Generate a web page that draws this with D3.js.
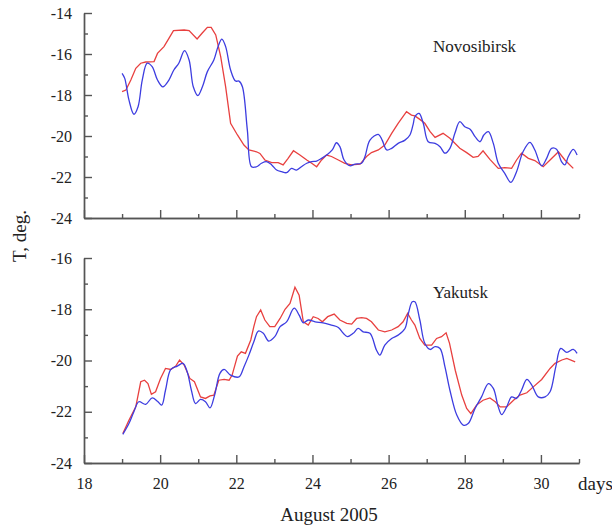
<!DOCTYPE html>
<html>
<head>
<meta charset="utf-8">
<script src="https://cdn.jsdelivr.net/npm/d3@7"></script>
<style>
  body { margin: 0; background: #fff; }
  svg text { font-family: "Liberation Serif", "Times New Roman", serif; fill: #222; }
</style>
</head>
<body>
<div id="chart"></div>
<script>
// tick values
var dayMajor = [18, 20, 22, 24, 26, 28, 30];
var dayMinor = [19, 21, 23, 25, 27, 29, 31];
var topMajor = [-24, -22, -20, -18, -16, -14];
var topMinor = [-23, -21, -19, -17, -15];
var botMajor = [-24, -22, -20, -18, -16];
var botMinor = [-23, -21, -19, -17];

// Novosibirsk [day, T]
var novoRed = [[19.00,-17.84],[19.10,-17.76],[19.23,-17.27],[19.36,-16.70],[19.49,-16.45],[19.62,-16.39],[19.84,-16.37],[19.93,-15.97],[20.10,-15.64],[20.23,-15.24],[20.35,-14.86],[20.63,-14.83],[20.76,-14.86],[20.97,-15.27],[21.10,-14.99],[21.24,-14.70],[21.34,-14.70],[21.46,-15.07],[21.59,-16.13],[21.72,-17.60],[21.85,-19.38],[22.03,-19.95],[22.20,-20.44],[22.33,-20.68],[22.53,-20.77],[22.62,-20.85],[22.75,-21.17],[22.93,-21.30],[23.10,-21.30],[23.23,-21.41],[23.36,-21.09],[23.50,-20.72],[23.67,-20.93],[23.85,-21.17],[23.98,-21.33],[24.11,-21.50],[24.24,-21.17],[24.37,-20.93],[24.50,-21.00],[24.68,-21.17],[24.85,-21.33],[25.03,-21.41],[25.25,-21.37],[25.42,-21.00],[25.55,-20.81],[25.73,-20.68],[25.90,-20.44],[26.08,-19.87],[26.25,-19.38],[26.47,-18.81],[26.60,-18.98],[26.69,-19.02],[26.82,-19.19],[26.95,-19.38],[27.09,-19.79],[27.22,-20.07],[27.43,-19.87],[27.61,-20.11],[27.87,-20.60],[28.05,-20.81],[28.22,-21.04],[28.35,-21.00],[28.48,-20.72],[28.66,-21.14],[28.88,-21.58],[29.05,-21.54],[29.23,-21.58],[29.36,-21.17],[29.49,-20.84],[29.67,-21.09],[29.84,-21.20],[30.06,-21.50],[30.24,-21.17],[30.46,-20.77],[30.63,-21.17],[30.85,-21.58]];
var novoBlue = [[19.00,-16.94],[19.07,-17.19],[19.18,-18.24],[19.31,-18.94],[19.42,-18.57],[19.53,-17.27],[19.66,-16.45],[19.79,-16.62],[19.93,-17.27],[20.07,-17.60],[20.23,-17.27],[20.36,-16.78],[20.49,-16.45],[20.64,-15.84],[20.76,-16.29],[20.87,-17.60],[20.99,-18.03],[21.11,-17.60],[21.24,-16.86],[21.41,-16.29],[21.52,-15.64],[21.62,-15.27],[21.72,-15.64],[21.85,-16.78],[21.98,-17.32],[22.07,-17.32],[22.16,-17.60],[22.29,-19.71],[22.40,-21.50],[22.53,-21.50],[22.66,-21.33],[22.79,-21.25],[22.93,-21.41],[23.06,-21.66],[23.19,-21.74],[23.32,-21.79],[23.45,-21.58],[23.58,-21.66],[23.71,-21.50],[23.85,-21.33],[23.98,-21.25],[24.11,-21.22],[24.24,-21.09],[24.37,-20.93],[24.52,-20.68],[24.63,-20.33],[24.72,-20.52],[24.83,-21.17],[24.98,-21.45],[25.12,-21.37],[25.29,-21.33],[25.38,-21.00],[25.51,-20.20],[25.73,-19.92],[25.83,-20.20],[25.95,-20.68],[26.08,-20.60],[26.25,-20.36],[26.43,-20.20],[26.56,-19.95],[26.65,-19.38],[26.69,-19.06],[26.80,-18.90],[26.91,-19.38],[27.04,-20.28],[27.22,-20.36],[27.35,-20.52],[27.48,-20.84],[27.61,-20.60],[27.74,-19.87],[27.87,-19.30],[28.00,-19.55],[28.14,-19.67],[28.27,-20.03],[28.40,-20.28],[28.50,-19.95],[28.62,-19.79],[28.75,-20.36],[28.88,-21.33],[29.05,-21.82],[29.21,-22.26],[29.36,-21.74],[29.53,-20.77],[29.71,-20.31],[29.84,-20.68],[30.02,-21.46],[30.15,-21.09],[30.28,-20.60],[30.41,-20.65],[30.54,-21.25],[30.63,-21.41],[30.72,-21.00],[30.85,-20.65],[30.95,-20.93]];

// Yakutsk [day, T]
var yakRed = [[19.02,-22.85],[19.18,-22.33],[19.36,-21.81],[19.49,-20.83],[19.59,-20.77],[19.68,-20.90],[19.77,-21.32],[19.88,-21.22],[20.01,-20.70],[20.14,-20.31],[20.28,-20.35],[20.41,-20.22],[20.51,-19.98],[20.63,-20.18],[20.78,-20.70],[20.90,-20.83],[21.06,-21.42],[21.19,-21.48],[21.31,-21.38],[21.41,-21.35],[21.54,-20.77],[21.68,-20.74],[21.81,-20.77],[21.89,-20.57],[22.03,-19.83],[22.13,-19.66],[22.24,-19.72],[22.38,-19.20],[22.46,-18.68],[22.53,-18.29],[22.64,-18.03],[22.75,-18.42],[22.88,-18.68],[23.01,-18.68],[23.15,-18.36],[23.28,-18.00],[23.41,-17.77],[23.54,-17.14],[23.65,-17.45],[23.76,-18.49],[23.89,-18.62],[24.02,-18.29],[24.15,-18.36],[24.26,-18.49],[24.40,-18.29],[24.57,-18.19],[24.72,-18.42],[24.90,-18.55],[25.03,-18.58],[25.16,-18.36],[25.29,-18.33],[25.42,-18.36],[25.55,-18.49],[25.73,-18.81],[25.90,-18.88],[26.08,-18.81],[26.25,-18.68],[26.38,-18.49],[26.50,-18.16],[26.60,-18.42],[26.69,-18.62],[26.82,-19.14],[26.95,-19.40],[27.13,-19.40],[27.26,-19.14],[27.39,-19.07],[27.51,-18.92],[27.60,-19.33],[27.75,-20.38],[27.92,-21.35],[28.05,-21.87],[28.16,-22.07],[28.31,-21.74],[28.48,-21.55],[28.66,-21.46],[28.80,-21.61],[28.93,-21.81],[29.10,-21.81],[29.28,-21.55],[29.45,-21.35],[29.63,-21.26],[29.80,-21.03],[30.02,-20.74],[30.24,-20.31],[30.37,-20.11],[30.55,-19.98],[30.68,-19.92],[30.90,-20.05]];
var yakBlue = [[19.02,-22.88],[19.18,-22.46],[19.31,-22.00],[19.44,-21.61],[19.62,-21.71],[19.79,-21.46],[19.93,-21.59],[20.04,-21.74],[20.14,-21.16],[20.28,-20.35],[20.45,-20.22],[20.60,-20.11],[20.71,-20.44],[20.82,-21.16],[20.93,-21.68],[21.06,-21.52],[21.19,-21.61],[21.31,-21.85],[21.43,-21.35],[21.57,-20.50],[21.68,-20.35],[21.85,-20.57],[22.07,-20.64],[22.20,-20.25],[22.33,-19.79],[22.46,-19.27],[22.58,-18.85],[22.71,-18.94],[22.85,-19.24],[23.01,-19.07],[23.15,-18.68],[23.32,-18.49],[23.52,-17.96],[23.65,-18.23],[23.76,-18.53],[23.89,-18.42],[24.07,-18.49],[24.28,-18.53],[24.50,-18.62],[24.68,-18.71],[24.81,-18.94],[24.92,-19.07],[25.07,-18.94],[25.20,-18.75],[25.33,-18.88],[25.51,-18.94],[25.68,-19.59],[25.77,-19.79],[25.90,-19.40],[26.08,-19.14],[26.25,-19.01],[26.43,-18.75],[26.52,-18.16],[26.62,-17.71],[26.69,-17.71],[26.82,-18.42],[26.95,-19.33],[27.09,-19.57],[27.22,-19.46],[27.35,-19.53],[27.48,-20.25],[27.61,-21.16],[27.79,-22.13],[27.96,-22.52],[28.09,-22.46],[28.27,-21.87],[28.44,-21.42],[28.62,-20.90],[28.75,-21.09],[28.88,-21.81],[28.97,-22.11],[29.10,-21.81],[29.23,-21.42],[29.36,-21.48],[29.49,-21.16],[29.63,-20.74],[29.76,-20.96],[29.93,-21.42],[30.11,-21.42],[30.24,-21.22],[30.39,-20.25],[30.52,-19.53],[30.68,-19.68],[30.85,-19.57],[30.95,-19.72]];

var redColor = "#e8403f", blueColor = "#3d3de0", axisColor = "#555";

// plain hyphen labels like the original, not the unicode minus
var plain = function(d) { return String(d); };

var svg = d3.select("#chart")
  .append("svg")
    .attr("width", 612)
    .attr("height", 530);

// shared x scale
var x = d3.scaleLinear().domain([18, 31]).range([84, 579]);

var panels = [
  {name: "Novosibirsk", domain: [-24, -14], range: [218, 13], major: topMajor, minor: topMinor, red: novoRed, blue: novoBlue, labels: false, ly: 52},
  {name: "Yakutsk", domain: [-24, -16], range: [463, 258], major: botMajor, minor: botMinor, red: yakRed, blue: yakBlue, labels: true, ly: 298}
];

panels.forEach(function(p) {
  var y = d3.scaleLinear().domain(p.domain).range(p.range);
  var g = svg.append("g");

  // y axis: major ticks with labels, minor ticks without
  g.append("g")
    .attr("transform", "translate(" + x(18) + ",0)")
    .call(d3.axisLeft(y).tickValues(p.major).tickSize(-8).tickSizeOuter(0).tickPadding(12).tickFormat(plain));
  g.append("g")
    .attr("transform", "translate(" + x(18) + ",0)")
    .call(d3.axisLeft(y).tickValues(p.minor).tickSize(-4).tickSizeOuter(0).tickFormat(""));

  // x axis
  var base = y(p.domain[0]);
  g.append("g")
    .attr("transform", "translate(0," + base + ")")
    .call(d3.axisBottom(x).tickValues(dayMajor).tickSize(-8).tickSizeOuter(0).tickPadding(15)
      .tickFormat(p.labels ? plain : ""));
  g.append("g")
    .attr("transform", "translate(0," + base + ")")
    .call(d3.axisBottom(x).tickValues(dayMinor).tickSize(-4).tickSizeOuter(0).tickFormat(""));

  // lines
  var redLine = d3.line()
    .x(function(d) { return x(d[0]); })
    .y(function(d) { return y(d[1]); });
  var blueLine = d3.line()
    .curve(d3.curveCatmullRom.alpha(0.5))
    .x(function(d) { return x(d[0]); })
    .y(function(d) { return y(d[1]); });

  g.append("path").datum(p.red)
    .attr("d", redLine)
    .attr("fill", "none").attr("stroke", redColor).attr("stroke-width", 1.3);
  g.append("path").datum(p.blue)
    .attr("d", blueLine)
    .attr("fill", "none").attr("stroke", blueColor).attr("stroke-width", 1.3);

  g.append("text")
    .attr("x", 433).attr("y", p.ly)
    .style("font-size", "17px")
    .text(p.name);
});

// axis styling
svg.selectAll(".domain, .tick line")
  .attr("stroke", axisColor)
  .attr("stroke-width", 1.4);
svg.selectAll("g[font-family]")
  .attr("font-family", "'Liberation Serif', serif");
svg.selectAll(".tick text")
  .attr("fill", "#222")
  .style("font-family", "'Liberation Serif', serif")
  .style("font-size", "16px");

// axis titles
svg.append("text")
  .attr("x", 578).attr("y", 490)
  .style("font-size", "19px")
  .text("days");

svg.append("text")
  .attr("x", 329).attr("y", 521)
  .attr("text-anchor", "middle")
  .style("font-size", "19px")
  .text("August 2005");

svg.append("text")
  .attr("transform", "translate(26,236) rotate(-90)")
  .attr("text-anchor", "middle")
  .style("font-size", "19px")
  .text("T, deg.");
</script>
</body>
</html>
